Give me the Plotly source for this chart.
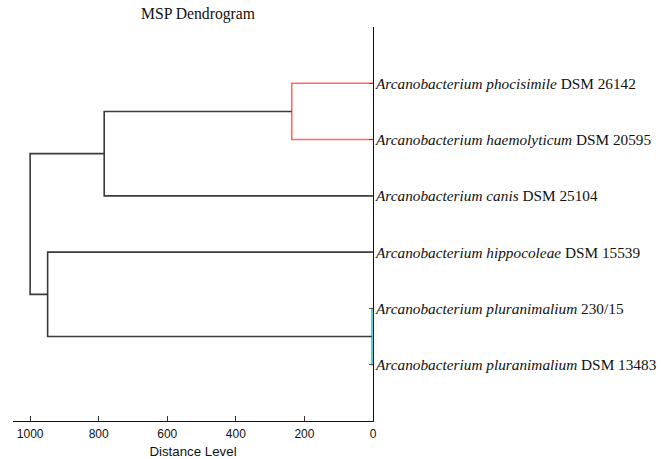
import plotly.graph_objects as go

# Leaves (top to bottom)
species = ["Arcanobacterium phocisimile", "Arcanobacterium haemolyticum",
           "Arcanobacterium canis", "Arcanobacterium hippocoleae",
           "Arcanobacterium pluranimalium", "Arcanobacterium pluranimalium"]
strains = ["DSM 26142", "DSM 20595", "DSM 25104", "DSM 15539", "230/15", "DSM 13483"]

# Merges: (left node, right node, distance, colour). Leaves are 0..5, new nodes 6..
merge_left = [0, 4, 6, 3, 8]
merge_right = [1, 5, 2, 7, 9]
merge_dist = [237, 3, 784, 949, 1000]
merge_color = ["#ff6868", "#1cd0d8", "#3a3a3a", "#3a3a3a", "#3a3a3a"]

x_ticks = [1000, 800, 600, 400, 200, 0]

n = len(species)
pos = {i: (i + 1, 0.0) for i in range(n)}  # node -> (y, x distance)

fig = go.Figure()
for k, (a, b, d, c) in enumerate(zip(merge_left, merge_right, merge_dist, merge_color)):
    ya, xa = pos[a]
    yb, xb = pos[b]
    fig.add_trace(go.Scatter(x=[xa, d, d, xb], y=[ya, ya, yb, yb], mode="lines",
                             line=dict(color=c, width=1.6), hoverinfo="skip",
                             showlegend=False))
    pos[n + k] = ((ya + yb) / 2, d)

for i, (s, t) in enumerate(zip(species, strains)):
    fig.add_annotation(x=0, y=i + 1, xref="x", yref="y", text=f"<i>{s}</i> {t}",
                       showarrow=False, xanchor="left", yanchor="middle", xshift=0,
                       font=dict(family="Liberation Serif", size=15.3, color="#111"))

fig.update_layout(
    width=661, height=459,
    margin=dict(l=13, r=288, t=27, b=38),
    plot_bgcolor="white", paper_bgcolor="white",
    title=dict(text="MSP Dendrogram", x=198 / 661, xanchor="center", y=1 - 14 / 459,
               yanchor="middle", font=dict(family="Liberation Serif", size=15.7, color="#111")),
)
fig.update_xaxes(range=[1050, 0], tickvals=x_ticks, ticktext=[str(v) for v in x_ticks],
                 ticks="inside", ticklen=5, tickcolor="#333", showgrid=False, zeroline=False,
                 showline=True, linecolor="#111", linewidth=1.2, ticklabelstandoff=1,
                 automargin=False,
                 tickfont=dict(family="Liberation Sans", size=12, color="#111"),
                 title=dict(text="Distance Level", standoff=7,
                            font=dict(family="Liberation Sans", size=13.3, color="#111")))
fig.update_yaxes(range=[7, 0], side="right", showline=True, linecolor="#111", linewidth=1.2,
                 showticklabels=False, tickvals=list(range(1, n + 1)), ticks="inside",
                 ticklen=4, tickcolor="#555", tickwidth=1,
                 showgrid=False, zeroline=False, automargin=False)

fig.write_html("out.html", config={"displayModeBar": False},
               post_script="document.body.style.margin='0';document.body.style.overflow='hidden';")
